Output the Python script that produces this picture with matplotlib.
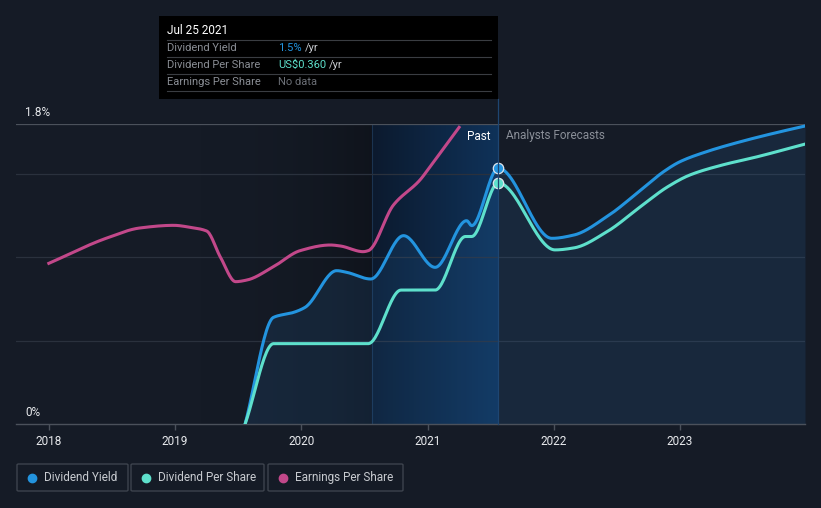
import numpy as np
import matplotlib
matplotlib.use("Agg")
import matplotlib.pyplot as plt
from matplotlib.patches import Rectangle, FancyBboxPatch
from matplotlib.lines import Line2D
from matplotlib.colors import LinearSegmentedColormap

plt.rcParams['font.family'] = ['Roboto', 'DejaVu Sans']

# ---------------- data ----------------
yield_years = [2019.555, 2019.78, 2019.94, 2020.03, 2020.28, 2020.36, 2020.55, 2020.81,
               2021.06, 2021.31, 2021.35, 2021.56, 2021.985, 2022.16, 2022.42, 2022.69,
               2022.87, 2023.0, 2023.21, 2023.48, 2023.74, 2023.99]
yield_pct = [0.0, 0.64, 0.67, 0.70, 0.92, 0.91, 0.87, 1.13,
             0.94, 1.22, 1.19, 1.535, 1.114, 1.134, 1.244, 1.404,
             1.514, 1.574, 1.634, 1.694, 1.744, 1.788]

dps_years = [2019.555, 2019.78, 2020.53, 2020.79, 2021.06, 2021.30, 2021.35, 2021.56,
             2022.01, 2022.16, 2022.42, 2022.69, 2022.90, 2023.08, 2023.34, 2023.61, 2023.99]
dps_usd = [0.0, 0.12, 0.12, 0.20, 0.20, 0.28, 0.28, 0.36,
           0.260, 0.263, 0.287, 0.325, 0.354, 0.372, 0.387, 0.399, 0.418]

eps_years = [2018.0, 2018.46, 2018.72, 2018.99, 2019.12, 2019.25, 2019.36, 2019.48,
             2019.57, 2019.78, 2019.99, 2020.23, 2020.31, 2020.49, 2020.53, 2020.73,
             2020.94, 2021.02, 2021.25]
eps_rel = [0.964, 1.116, 1.176, 1.192, 1.18, 1.158, 1.00, 0.854,
           0.864, 0.944, 1.04, 1.074, 1.068, 1.034, 1.04, 1.314,
           1.464, 1.544, 1.78]

year_ticks = [2018, 2019, 2020, 2021, 2022, 2023]
past_start, today = 2020.56, 2021.56

# ---------------- helpers ----------------
def monotone(x, y, n=500):
    x = np.asarray(x, float); y = np.asarray(y, float)
    h = np.diff(x); d = np.diff(y) / h
    m = np.zeros_like(y)
    m[0], m[-1] = d[0], d[-1]
    for i in range(1, len(y) - 1):
        if d[i - 1] * d[i] <= 0:
            m[i] = 0
        else:
            w1 = 2 * h[i] + h[i - 1]; w2 = h[i] + 2 * h[i - 1]
            m[i] = (w1 + w2) / (w1 / d[i - 1] + w2 / d[i])
    xs = np.linspace(x[0], x[-1], n)
    idx = np.clip(np.searchsorted(x, xs) - 1, 0, len(x) - 2)
    t = (xs - x[idx]) / h[idx]
    h00 = 2 * t**3 - 3 * t**2 + 1; h10 = t**3 - 2 * t**2 + t
    h01 = -2 * t**3 + 3 * t**2; h11 = t**3 - t**2
    ys = h00 * y[idx] + h10 * h[idx] * m[idx] + h01 * y[idx + 1] + h11 * h[idx] * m[idx + 1]
    return xs, ys

BG = '#151b26'
W, H = 821, 508
fig = plt.figure(figsize=(W / 100, H / 100), dpi=100, facecolor=BG)

L, R, T, B = 16, 805, 124, 424
ax = fig.add_axes([L / W, 1 - B / H, (R - L) / W, (B - T) / H])
ax.set_facecolor(BG)
xmin, xmax = 2017.74, 2023.99
ax.set_xlim(xmin, xmax)
ax.set_ylim(0, 1.8)

# background gradients
dark = LinearSegmentedColormap.from_list('d', [(0.082, 0.106, 0.149, 0.0), (0.055, 0.07, 0.10, 0.75)])
g = np.linspace(0, 1, 256).reshape(1, -1)
ax.imshow(g, extent=[2019.2, past_start, 0, 1.8], aspect='auto', cmap=dark, zorder=0.1, interpolation='bicubic')
blue = LinearSegmentedColormap.from_list('b', ['#0c1a2e', '#0f3259'])
ax.imshow(g, extent=[past_start, today, 0, 1.8], aspect='auto', cmap=blue, zorder=0.2, interpolation='bicubic')
ax.axvline(past_start, color='#1b3350', lw=0.8, zorder=0.3)

# grid
for v in [0.5, 1.0, 1.5]:
    ax.axhline(v, color='#2a313d', lw=0.9, zorder=0.5)
ax.axhline(1.8, color='#4b515b', lw=0.9, zorder=0.5)

for s in ['top', 'right', 'left']:
    ax.spines[s].set_visible(False)
ax.spines['bottom'].set_color('#4b515b')
ax.spines['bottom'].set_linewidth(1.0)
ax.set_yticks([])
ax.set_xticks(year_ticks)
ax.set_xticklabels([str(y) for y in year_ticks])
ax.tick_params(axis='x', colors='#4b515b', length=4, width=1, labelcolor='#e8eaed', labelsize=8.5, pad=4)

# dividend yield
xs, ys = monotone(yield_years, yield_pct)
ax.fill_between(xs, 0, ys, color='#2a6fb0', alpha=0.16, lw=0, zorder=1)
ax.plot(xs, ys, color='#2394df', lw=2.2, zorder=3, solid_capstyle='round')

# dividend per share (own scale)
ax2 = ax.twinx()
ax2.set_ylim(0, 0.448)
ax2.axis('off')
xd, yd = monotone(dps_years, dps_usd)
ax2.plot(xd, yd, color='#5ee0cc', lw=2.2, zorder=3)

# earnings per share (own scale)
ax3 = ax.twinx()
ax3.set_ylim(0, 1.8)
ax3.axis('off')
xe, ye = monotone(eps_years, eps_rel)
ax3.plot(xe, ye, color='#c2488a', lw=2.2, zorder=3)

# markers on top
ax3.plot([today], [yield_pct[yield_years.index(today)]], 'o', ms=7.5, mfc='#2394df', mec='#dfe6ee', mew=0.9,
         zorder=6, transform=ax.transData)
ax3.plot([today], [dps_usd[dps_years.index(today)]], 'o', ms=7.5, mfc='#5ee0cc', mec='#dfe6ee', mew=0.9,
         zorder=6, transform=ax2.transData)

# today line
fig.add_artist(Line2D([498 / W, 498 / W], [1 - 99 / H, 1 - B / H], color='#1e4672', lw=0.9, transform=fig.transFigure))

# y labels
fig.text(25 / W, 1 - 112 / H, '1.8%', color='#e8eaed', fontsize=8.5, va='center', ha='left')
fig.text(25 / W, 1 - 412 / H, '0%', color='#e8eaed', fontsize=8.5, va='center', ha='left')

# past / forecasts
fig.text(490 / W, 1 - 136 / H, 'Past', color='#ffffff', fontsize=8.5, va='center', ha='right')
fig.text(506 / W, 1 - 136 / H, 'Analysts Forecasts', color='#8a8f98', fontsize=8.5, va='center', ha='left')

# tooltip
fig.add_artist(Rectangle((159 / W, 1 - 99 / H), (498 - 159) / W, (99 - 16) / H, transform=fig.transFigure,
                         facecolor='#000000', edgecolor='none', zorder=10))
fig.text(167 / W, 1 - 31 / H, 'Jul 25 2021', color='#ffffff', fontsize=8.5, va='center', ha='left', zorder=11)
for yl in [39.5, 56.5, 73.5, 90.5]:
    fig.add_artist(Line2D([167 / W, 491 / W], [1 - yl / H] * 2, color='#3a3d42', lw=0.8, transform=fig.transFigure, zorder=11))
rows = [('Dividend Yield', '1.5%', '#2394df'),
        ('Dividend Per Share', 'US$0.360', '#5ee0cc'),
        ('Earnings Per Share', 'No data', '#6b6f76')]
for i, (lab, val, col) in enumerate(rows):
    yy = 1 - (48 + 17 * i) / H
    fig.text(167 / W, yy, lab, color='#8a8e95', fontsize=8, va='center', ha='left', zorder=11)
    t = fig.text(278 / W, yy, val, color=col, fontsize=8, va='center', ha='left', zorder=11)
    if val != 'No data':
        fig.canvas.draw()
        bb = t.get_window_extent()
        fig.text((bb.x1 + 3) / W, yy, '/yr', color='#c8cbd0', fontsize=8, va='center', ha='left', zorder=11)

# legend
legend = [('Dividend Yield', '#2394df', 17, 128),
          ('Dividend Per Share', '#5ee0cc', 131, 264),
          ('Earnings Per Share', '#c2488a', 268, 403)]
for lab, col, x0, x1 in legend:
    fig.add_artist(FancyBboxPatch((x0 / W, 1 - 491 / H), (x1 - x0) / W, 27 / H,
                                  boxstyle='round,pad=0,rounding_size=0.002', transform=fig.transFigure,
                                  facecolor='none', edgecolor='#3d434d', lw=1.0))
    fig.add_artist(Line2D([(x0 + 15) / W], [1 - 477.5 / H], marker='o', ms=6, color=col, mec=col,
                          transform=fig.transFigure))
    fig.text((x0 + 27) / W, 1 - 477.5 / H, lab, color='#c8cbd0', fontsize=8.5, va='center', ha='left')

fig.savefig('out.png', dpi=100, facecolor=BG)
